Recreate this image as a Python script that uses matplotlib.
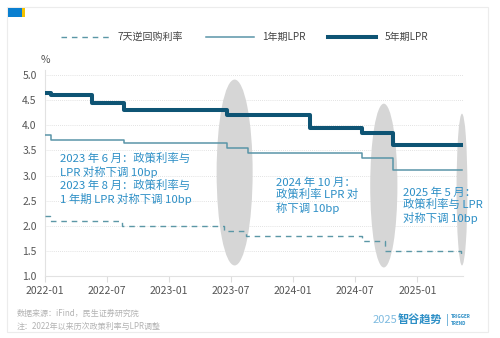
import matplotlib
matplotlib.use("Agg")
import matplotlib.pyplot as plt
import matplotlib.dates as mdates
from matplotlib.patches import Ellipse, Rectangle
import numpy as np
import pandas as pd

plt.rcParams["font.family"] = ["Noto Sans CJK SC", "DejaVu Sans"]

# step dates and values (value holds from the date on)
REPO_DATES = ["2022-01-01", "2022-01-17", "2022-08-15", "2023-06-13",
              "2023-08-15", "2024-07-22", "2024-09-27", "2025-05-08"]
REPO_VALUES = [2.20, 2.10, 2.00, 1.90, 1.80, 1.70, 1.50, 1.40]

LPR1_DATES = ["2022-01-01", "2022-01-20", "2022-08-22", "2023-06-20",
              "2023-08-21", "2024-07-22", "2024-10-21"]
LPR1_VALUES = [3.80, 3.70, 3.65, 3.55, 3.45, 3.35, 3.10]

LPR5_DATES = ["2022-01-01", "2022-01-20", "2022-05-20", "2022-08-22",
              "2023-06-20", "2024-02-20", "2024-07-22", "2024-10-21"]
LPR5_VALUES = [4.65, 4.60, 4.45, 4.30, 4.20, 3.95, 3.85, 3.60]

END_DATE = "2025-05-11"

SERIES_NAMES = ["7天逆回购利率", "1年期LPR", "5年期LPR"]
X_TICKS = ["2022-01", "2022-07", "2023-01", "2023-07", "2024-01", "2024-07", "2025-01"]
Y_TICKS = [1.0, 1.5, 2.0, 2.5, 3.0, 3.5, 4.0, 4.5, 5.0]

# highlighted adjustment windows: centre date, centre value, width (days), height
HIGHLIGHT_DATES = ["2023-07-13", "2024-09-24", "2025-05-12"]
HIGHLIGHT_CENTRES = [3.06, 2.80, 2.72]
HIGHLIGHT_WIDTHS = [106, 80, 32]
HIGHLIGHT_HEIGHTS = [3.70, 3.26, 3.02]

NOTES = [
    "2023 年 6 月：政策利率与\nLPR 对称下调 10bp\n2023 年 8 月：政策利率与\n1 年期 LPR 对称下调 10bp",
    "2024 年 10 月：\n政策利率 LPR 对\n称下调 10bp",
    "2025 年 5 月：\n政策利率与 LPR\n对称下调 10bp",
]

NOTE_COLOR = "#2d8fc6"
GRID_COLOR = "#d9d9d9"


def step_xy(dates, values, end):
    x = list(pd.to_datetime(dates)) + [pd.Timestamp(end)]
    y = list(values) + [values[-1]]
    return x, y


fig = plt.figure(figsize=(5.0, 3.38), dpi=100)
W, H = 500, 338

# card frame and corner icon
fig.patches.append(Rectangle((7 / W, 1 - 332 / H), 481 / W, 325 / H,
                             transform=fig.transFigure, facecolor="white",
                             edgecolor="#ececec", linewidth=0.8, zorder=-5))
fig.patches.append(Rectangle((8 / W, 1 - 17 / H), 14 / W, 9 / H,
                             transform=fig.transFigure, facecolor="#0a7fd0",
                             edgecolor="none", zorder=1))
fig.patches.append(Rectangle((22 / W, 1 - 17 / H), 3 / W, 9 / H,
                             transform=fig.transFigure, facecolor="#f4c300",
                             edgecolor="none", zorder=1))

ax = fig.add_axes([45 / W, 1 - 276 / H, 418 / W, 206 / H])
ax.set_facecolor("none")

for d, cy, w, h in zip(HIGHLIGHT_DATES, HIGHLIGHT_CENTRES, HIGHLIGHT_WIDTHS, HIGHLIGHT_HEIGHTS):
    ax.add_patch(Ellipse((mdates.date2num(pd.Timestamp(d)), cy), w, h,
                         facecolor="#d6d6d6", edgecolor="none", zorder=1,
                         clip_on=False))

x, y = step_xy(REPO_DATES, REPO_VALUES, END_DATE)
ax.step(x, y, where="post", color="#5b97a6", lw=1.0, ls=(0, (4, 3.5)),
        label=SERIES_NAMES[0], zorder=3)
x, y = step_xy(LPR1_DATES, LPR1_VALUES, END_DATE)
ax.step(x, y, where="post", color="#5a95a8", lw=1.1, label=SERIES_NAMES[1], zorder=3)
x, y = step_xy(LPR5_DATES, LPR5_VALUES, END_DATE)
ax.step(x, y, where="post", color="#0e5474", lw=2.9, label=SERIES_NAMES[2], zorder=4)

ax.set_xlim(pd.Timestamp("2022-01-01"), pd.Timestamp("2025-05-15"))
ax.set_ylim(1.0, 5.1)
ax.set_yticks(Y_TICKS)
ax.set_yticklabels([f"{v:.1f}" for v in Y_TICKS])
ax.set_xticks(pd.to_datetime(X_TICKS))
ax.set_xticklabels(X_TICKS)
ax.tick_params(axis="x", length=4, color="#dddddd", labelsize=7.5,
               labelcolor="#555555", pad=3)
ax.tick_params(axis="y", length=0, labelsize=7.5, labelcolor="#555555", pad=6)
for side in ["top", "right"]:
    ax.spines[side].set_visible(False)
for side in ["left", "bottom"]:
    ax.spines[side].set_color("#e2e2e2")
    ax.spines[side].set_linewidth(0.8)
ax.yaxis.grid(True, color=GRID_COLOR, lw=0.6, ls=(0, (1, 1.5)), zorder=0)
ax.set_axisbelow(True)

fig.text(45 / W, 1 - 60 / H, "%", fontsize=7.5, color="#555555",
         ha="center", va="center")

# annotations
ax.text(60 / W, 1 - 153 / H, NOTES[0], transform=fig.transFigure, fontsize=8.2,
        color=NOTE_COLOR, va="top", ha="left", linespacing=1.2,
        fontweight="medium", zorder=5)
ax.text(276 / W, 1 - 177 / H, NOTES[1], transform=fig.transFigure, fontsize=8.2,
        color=NOTE_COLOR, va="top", ha="left", linespacing=1.2,
        fontweight="medium", zorder=5)
ax.text(403 / W, 1 - 187 / H, NOTES[2], transform=fig.transFigure, fontsize=8.2,
        color=NOTE_COLOR, va="top", ha="left", linespacing=1.2,
        fontweight="medium", zorder=5)

fig.legend(loc="center left", bbox_to_anchor=(52 / W, 1 - 37 / H), ncol=3,
           frameon=False, fontsize=7.2, handlelength=4.8, handletextpad=0.9,
           columnspacing=2.2, labelcolor="#444444")

# footer
fig.text(17 / W, 1 - 313 / H, "数据来源：iFind，民生证券研究院", fontsize=5.8,
         color="#b3b3b3", va="center")
fig.text(17 / W, 1 - 326 / H, "注：2022年以来历次政策利率与LPR调整", fontsize=5.8,
         color="#b3b3b3", va="center")
fig.text(373 / W, 1 - 320 / H, "2025", fontsize=8, color="#7fbbe0", va="center")
fig.text(398 / W, 1 - 320 / H, "智谷趋势", fontsize=8, color="#2d8fc6",
         fontweight="bold", va="center")
fig.text(446 / W, 1 - 320 / H, "|", fontsize=7, color="#2d8fc6", va="center")
fig.text(451 / W, 1 - 320 / H, "TRIGGER\nTREND", fontsize=3.3, color="#2d8fc6",
         fontweight="bold", va="center", linespacing=1.3)

fig.savefig("out.png", dpi=100)
